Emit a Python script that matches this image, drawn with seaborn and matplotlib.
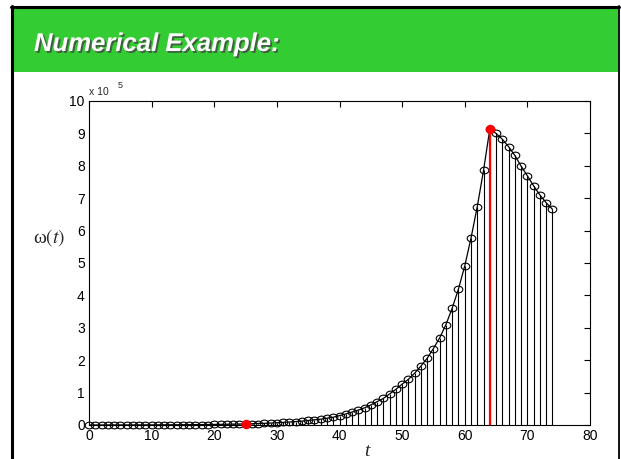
import numpy as np
import matplotlib
matplotlib.use("Agg")
import matplotlib.pyplot as plt
import seaborn as sns
from matplotlib.path import Path
from matplotlib.transforms import Affine2D
import matplotlib.patheffects as pe
from matplotlib.patches import Rectangle
from matplotlib.lines import Line2D

# ---- data (omega(t) in units of 1e5) ----
t_values = list(range(0, 75))
omega_values = [
    0.001, 0.001, 0.001, 0.002, 0.002, 0.002, 0.003, 0.003, 0.003, 0.004,
    0.004, 0.005, 0.006, 0.007, 0.008, 0.009, 0.010, 0.012, 0.013, 0.015,
    0.017, 0.020, 0.023, 0.026, 0.030, 0.034, 0.040, 0.046, 0.052, 0.060,
    0.069, 0.080, 0.092, 0.105, 0.12, 0.14, 0.16, 0.18, 0.21, 0.24,
    0.29, 0.34, 0.40, 0.46, 0.53, 0.62, 0.72, 0.82, 0.96, 1.10,
    1.26, 1.41, 1.60, 1.82, 2.06, 2.36, 2.69, 3.10, 3.61, 4.20,
    4.91, 5.77, 6.74, 7.86, 9.13,
    9.00, 8.82, 8.59, 8.32, 7.99, 7.69, 7.38, 7.10, 6.86, 6.66,
]
highlight_t = [25, 64]
x_ticks = list(range(0, 81, 10))
y_ticks = list(range(0, 11))
title_text = "Numerical Example:"

sns.set_style("white")
plt.rcParams['font.family'] = ['Liberation Sans', 'DejaVu Sans']
plt.rcParams['mathtext.fontset'] = 'stix'

fig = plt.figure(figsize=(6.21, 4.59), dpi=100)
W, H = 621, 459

def fx(px):
    return px / W

def fy(py):
    return 1 - py / H

# slide frame and header
fig.patches.append(Rectangle((fx(11), fy(72)), fx(618) - fx(11), fy(8) - fy(72),
                             transform=fig.transFigure, facecolor="#33CC33",
                             edgecolor="none", zorder=0))
fig.lines.append(Line2D([fx(11.5), fx(11.5)], [0, fy(6)], transform=fig.transFigure,
                        color="black", lw=2.2))
fig.lines.append(Line2D([fx(10.5), fx(619)], [fy(6.5), fy(6.5)], transform=fig.transFigure,
                        color="black", lw=2.2))
fig.lines.append(Line2D([fx(618.5), fx(618.5)], [0, fy(6)], transform=fig.transFigure,
                        color="black", lw=1.3))
fig.text(fx(34), fy(44), title_text, color="white", fontsize=18.5,
         fontweight="bold", fontstyle="italic", va="center", ha="left",
         path_effects=[pe.withSimplePatchShadow(offset=(1.3, -1.3),
                                                 shadow_rgbFace="#444444", alpha=0.8)])

ax = fig.add_axes([fx(89), fy(425), fx(590) - fx(89), fy(101) - fy(425)])

t = np.array(t_values)
w = np.array(omega_values)

# stems
ax.vlines(t, 0, w, colors="black", lw=0.8, zorder=2)
# connecting line
sns.lineplot(x=t, y=w, color="black", lw=0.9, ax=ax, zorder=3)
# open elliptical markers
ell = Path.unit_circle().transformed(Affine2D().scale(1.0, 0.78))
ax.plot(t, w, linestyle="none", marker=ell, markersize=6.2, mfc="none",
        mec="black", mew=0.8, zorder=4, clip_on=False)

# highlighted points
for ht in highlight_t:
    idx = t_values.index(ht)
    ax.vlines([ht], 0, [omega_values[idx]], colors="red", lw=1.6, zorder=5)
    ax.plot([ht], [omega_values[idx]], linestyle="none", marker="o", markersize=5.8,
            color="red", mec="red", zorder=6, clip_on=False)

ax.set_xlim(0, 80)
ax.set_ylim(0, 10)
ax.set_xticks(x_ticks)
ax.set_yticks(y_ticks)
ax.tick_params(direction="in", length=4, width=0.8, top=True, right=True,
               labelsize=10, colors="black", pad=3)
for s in ax.spines.values():
    s.set_visible(True)
    s.set_color("black")
    s.set_linewidth(0.8)

ax.set_xlabel("")
ax.set_ylabel("")
serif = ["Liberation Serif", "DejaVu Serif"]
fig.text(fx(367), fy(452), "t", fontsize=14, fontstyle="italic",
         family=serif, ha="center", va="center")
fig.text(fx(49), fy(238), r"ω$\left(t\right)$", fontsize=14, family=serif,
         ha="center", va="center")
fig.text(fx(89), fy(92), "x 10", fontsize=7.5, ha="left", va="center")
fig.text(fx(118), fy(86), "5", fontsize=6.5, ha="left", va="center")

fig.savefig("out.png", dpi=100)
